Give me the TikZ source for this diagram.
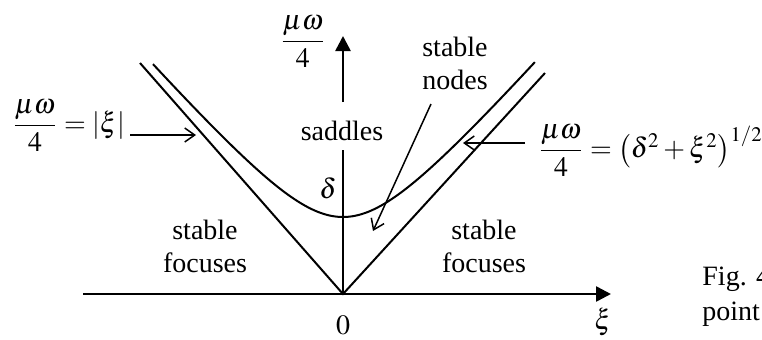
\documentclass[tikz,border=0pt]{standalone}
\usepackage{amsmath}
\usepackage{mathptmx}
\usepackage{fontspec}
\setmainfont{Liberation Serif}
\usetikzlibrary{arrows.meta}
\begin{document}
\begin{tikzpicture}[x=0.5pt,y=-0.5pt,
  txt/.style={font=\fontsize{14}{16.5}\selectfont, inner sep=0pt},
  axis/.style={line width=1.3pt, -{Triangle[length=7.5pt,width=7.5pt]}},
  curve/.style={line width=1pt},
  pointer/.style={line width=0.75pt, -{Straight Barb[length=5pt,width=7pt]}}]
\useasboundingbox (0,0) rectangle (762,339);
\clip (0,0) rectangle (762,339);
% axes
\coordinate (O) at (343,294);
\coordinate (xl) at (83,294);
\coordinate (xr) at (611,294);
\coordinate (v1) at (343,150);
\coordinate (v2) at (343,102);
\coordinate (vt) at (343,36);
\draw[axis] (xl) -- (xr);
\draw[line width=1.3pt] (O) -- (v1);
\draw[axis] (v2) -- (vt);
% lines |xi|
\coordinate (lt) at (140,63);
\coordinate (rt) at (545,73);
\draw[curve] (lt) -- (O) -- (rt);
% hyperbola
\draw[curve] plot[domain=-1.90:1.92, samples=120, smooth]
  ({343+100*\x},{294-100*sqrt(0.5929+(1.14*\x)*(1.14*\x))});
% labels
\node[txt] (ylab) at (303,42) {$\dfrac{\mu\omega}{4}$};
\node[txt] (sad) at (342,131) {saddles};
\node[txt] (del) at (328,188) {$\delta$};
\node[txt] (zero) at (343,325) {$0$};
\node[txt] (xi) at (603,322) {$\xi$};
\node[txt, align=center] (sn) at (455,63) {stable\\nodes};
\node[txt, align=center] (sfl) at (205,246) {stable\\focuses};
\node[txt, align=center] (sfr) at (484,246) {stable\\focuses};
\node[txt, anchor=west] (ll) at (12,126) {$\dfrac{\mu\omega}{4}=\left|\xi\right|$};
\node[txt, anchor=west] (rl) at (538,151) {$\dfrac{\mu\omega}{4}=\left(\delta^2+\xi^2\right)^{1/2}$};
\node[txt, anchor=base west] (fig1) at (702,285) {Fig. 4};
\node[txt, anchor=base west] (fig2) at (702,320) {point};
% pointers
\coordinate (la1) at (130,135);
\coordinate (la2) at (196,135);
\draw[pointer] (la1) -- (la2);
\coordinate (ra1) at (525,143);
\coordinate (ra2) at (463,143);
\draw[pointer] (ra1) -- (ra2);
\coordinate (na1) at (431,104);
\coordinate (na2) at (373,231);
\draw[pointer] (na1) -- (na2);
\end{tikzpicture}
\end{document}
